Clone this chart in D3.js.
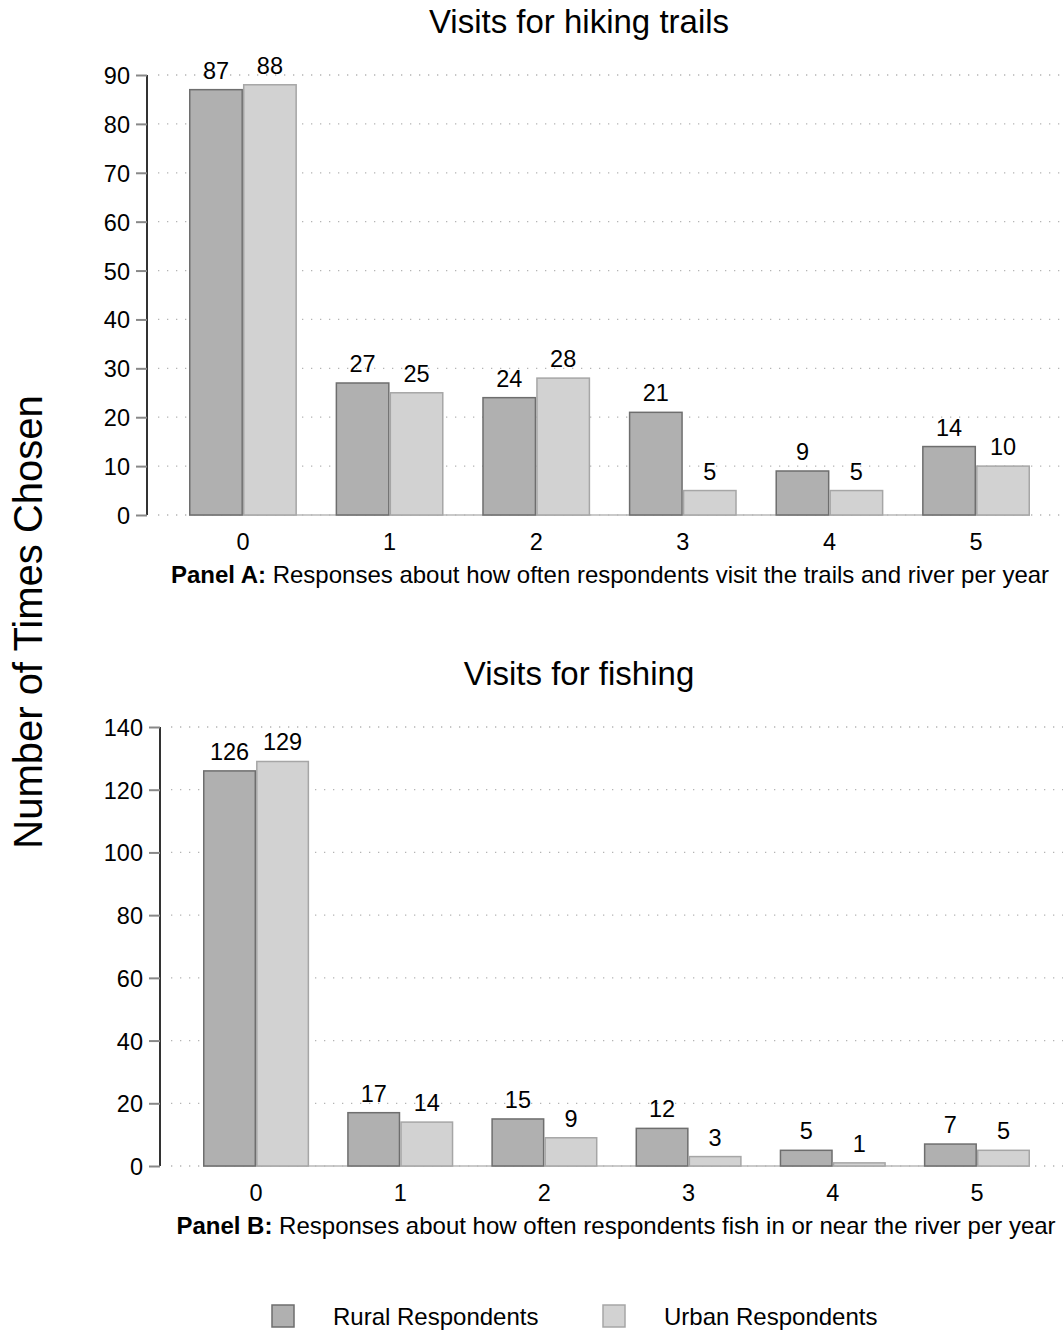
<!DOCTYPE html>
<html>
<head>
<meta charset="utf-8">
<script src="https://cdn.jsdelivr.net/npm/d3@7"></script>
<style>
  body { margin: 0; background: #fff; }
  text { font-family: "Liberation Sans", Arial, sans-serif; fill: #000; }
</style>
</head>
<body>
<svg id="chart" width="1063" height="1331"></svg>
<script>
// data
var categories = ["0", "1", "2", "3", "4", "5"];
var seriesNames = ["Rural Respondents", "Urban Respondents"];

var hikingRural = [87, 27, 24, 21, 9, 14];
var hikingUrban = [88, 25, 28, 5, 5, 10];
var fishingRural = [126, 17, 15, 12, 5, 7];
var fishingUrban = [129, 14, 9, 3, 1, 5];

var hikingTicks = [0, 10, 20, 30, 40, 50, 60, 70, 80, 90];
var fishingTicks = [0, 20, 40, 60, 80, 100, 120, 140];

var fills = ["#b0b0b0", "#d2d2d2"];
var strokes = ["#6e6e6e", "#a6a6a6"];

var svg = d3.select("#chart");

// draws one panel
function panel(opt) {
  var g = svg.append("g");

  var y = d3.scaleLinear().domain([0, opt.max]).range([opt.bottom, opt.top]);
  var x = d3.scaleBand().domain(categories)
    .range([opt.barLeft, opt.barRight]).paddingInner(0.264).paddingOuter(0);
  var xs = d3.scaleBand().domain(seriesNames).range([0, x.bandwidth()]);

  // dotted grid
  g.selectAll("line.grid")
    .data(opt.ticks)
    .enter().append("line")
    .attr("class", "grid")
    .attr("x1", opt.axisX + 11).attr("x2", 1063)
    .attr("y1", function(d) { return y(d); })
    .attr("y2", function(d) { return y(d); })
    .attr("stroke", "#b4b4b4")
    .attr("stroke-width", 1.3)
    .attr("stroke-dasharray", "1.3,7.7");

  // baseline
  g.append("line")
    .attr("x1", opt.barLeft).attr("x2", opt.barRight)
    .attr("y1", y(0)).attr("y2", y(0))
    .attr("stroke", "#b8b8b8").attr("stroke-width", 1.5);

  // y axis
  var yAxis = g.append("g")
    .attr("transform", "translate(" + opt.axisX + ",0)")
    .call(d3.axisLeft(y).tickValues(opt.ticks).tickSize(11).tickPadding(6));
  yAxis.select(".domain").attr("stroke", "#333").attr("stroke-width", 2)
    .attr("d", "M0," + y(opt.max) + "V" + y(0));
  yAxis.selectAll(".tick line").attr("stroke", "#888").attr("stroke-width", 2);
  yAxis.selectAll(".tick text").style("font-size", "23.5px")
    .attr("dy", "0.36em");

  // bars
  var rows = categories.map(function(c, i) {
    return { cat: c, vals: [opt.rural[i], opt.urban[i]] };
  });
  var grp = g.selectAll("g.grp")
    .data(rows)
    .enter().append("g")
    .attr("class", "grp")
    .attr("transform", function(d) { return "translate(" + x(d.cat) + ",0)"; });

  grp.selectAll("rect")
    .data(function(d) { return d.vals.map(function(v, j) { return { s: seriesNames[j], v: v, j: j }; }); })
    .enter().append("rect")
    .attr("x", function(d) { return xs(d.s) + 0.75; })
    .attr("y", function(d) { return y(d.v); })
    .attr("width", xs.bandwidth() - 1.5)
    .attr("height", function(d) { return y(0) - y(d.v); })
    .attr("fill", function(d) { return fills[d.j]; })
    .attr("stroke", function(d) { return strokes[d.j]; })
    .attr("stroke-width", 1.5);

  grp.selectAll("text.val")
    .data(function(d) { return d.vals.map(function(v, j) { return { s: seriesNames[j], v: v }; }); })
    .enter().append("text")
    .attr("class", "val")
    .attr("x", function(d) { return xs(d.s) + xs.bandwidth() / 2; })
    .attr("y", function(d) { return y(d.v) - 11; })
    .attr("text-anchor", "middle")
    .style("font-size", "23.5px")
    .text(function(d) { return d.v; });

  // category labels
  g.selectAll("text.cat")
    .data(categories)
    .enter().append("text")
    .attr("class", "cat")
    .attr("x", function(d) { return x(d) + x.bandwidth() / 2; })
    .attr("y", y(0) + 35)
    .attr("text-anchor", "middle")
    .style("font-size", "23.5px")
    .text(function(d) { return d; });

  // title
  g.append("text")
    .attr("x", 579).attr("y", opt.titleY)
    .attr("text-anchor", "middle")
    .style("font-size", "33px")
    .text(opt.title);

  // panel caption
  var cap = g.append("text")
    .attr("x", opt.capX).attr("y", y(0) + 68)
    .attr("text-anchor", "middle")
    .style("font-size", "24px");
  cap.append("tspan").style("font-weight", "bold").text(opt.capBold);
  cap.append("tspan").text(opt.capText);
}

panel({
  title: "Visits for hiking trails", titleY: 33,
  max: 90, ticks: hikingTicks, top: 75, bottom: 515,
  axisX: 147, barLeft: 189, barRight: 1030,
  rural: hikingRural, urban: hikingUrban,
  capX: 610, capBold: "Panel A:", capText: " Responses about how often respondents visit the trails and river per year"
});

panel({
  title: "Visits for fishing", titleY: 685,
  max: 140, ticks: fishingTicks, top: 727, bottom: 1166,
  axisX: 160, barLeft: 203, barRight: 1030,
  rural: fishingRural, urban: fishingUrban,
  capX: 616, capBold: "Panel B:", capText: " Responses about how often respondents fish in or near the river per year"
});

// shared y title
svg.append("text")
  .attr("transform", "translate(42,622) rotate(-90)")
  .attr("text-anchor", "middle")
  .style("font-size", "40px")
  .text("Number of Times Chosen");

// legend
var legendX = [272, 603];
var leg = svg.selectAll("g.leg")
  .data(seriesNames)
  .enter().append("g")
  .attr("class", "leg")
  .attr("transform", function(d, i) { return "translate(" + legendX[i] + ",1305)"; });
leg.append("rect")
  .attr("width", 22).attr("height", 22)
  .attr("fill", function(d, i) { return fills[i]; })
  .attr("stroke", function(d, i) { return strokes[i]; })
  .attr("stroke-width", 1.5);
leg.append("text")
  .attr("x", 61).attr("y", 20)
  .style("font-size", "24px")
  .text(function(d) { return d; });
</script>
</body>
</html>
